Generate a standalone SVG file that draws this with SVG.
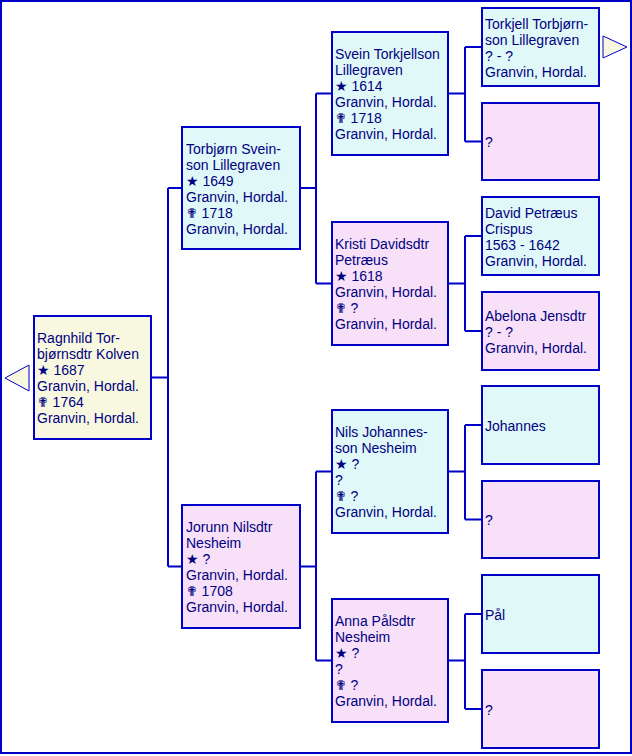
<svg xmlns="http://www.w3.org/2000/svg" width="632" height="756" viewBox="0 0 632 756">
<style>
.frame{fill:#ffffff;stroke:#0000c8;stroke-width:2}
.box{stroke:#0000c8;stroke-width:2}
.m{fill:#e0f8f8}
.f{fill:#f8e0f8}
.r{fill:#f8f8e0}
.ln{fill:none;stroke:#0000c8;stroke-width:2}
.tri{fill:#f8f8e0;stroke:#0000c8;stroke-width:1}
text{font-family:"Liberation Sans","DejaVu Sans",Arial,sans-serif;font-size:14px;fill:#000080}
</style>
<rect class="frame" x="1" y="1" width="630" height="752"/>
<g id="connectors">
<path class="ln" d="M152,377.5H168M168,188V566.5M168,188H181M168,566.5H181"/>
<path class="ln" d="M301,188H316M316,93.5V283.5M316,93.5H331M316,283.5H331"/>
<path class="ln" d="M301,566.5H316M316,471.5V660.5M316,471.5H331M316,660.5H331"/>
<path class="ln" d="M449,93.5H465M465,47V141.5M465,47H481M465,141.5H481"/>
<path class="ln" d="M449,283.5H465M465,236V331M465,236H481M465,331H481"/>
<path class="ln" d="M449,471.5H465M465,425V519.5M465,425H481M465,519.5H481"/>
<path class="ln" d="M449,660.5H465M465,614V709M465,614H481M465,709H481"/>
</g>
<g id="nav-left"><polygon class="tri" points="29,365 5,378 29,391"/></g>
<g id="nav-right"><polygon class="tri" points="603,36 627,47 603,58"/></g>
<g id="n1">
<rect class="box r" x="34" y="316" width="117" height="123"/>
<text x="37"><tspan x="37" y="343">Ragnhild Tor-</tspan><tspan x="37" y="359">bjørnsdtr Kolven</tspan><tspan x="37" y="375">★ 1687</tspan><tspan x="37" y="391">Granvin, Hordal.</tspan><tspan x="37" y="407">✟ 1764</tspan><tspan x="37" y="423">Granvin, Hordal.</tspan></text>
</g>
<g id="n2">
<rect class="box m" x="182" y="127" width="118" height="122"/>
<text><tspan x="186" y="153.5">Torbjørn Svein-</tspan><tspan x="186" y="169.5">son Lillegraven</tspan><tspan x="186" y="185.5">★ 1649</tspan><tspan x="186" y="201.5">Granvin, Hordal.</tspan><tspan x="186" y="217.5">✟ 1718</tspan><tspan x="186" y="233.5">Granvin, Hordal.</tspan></text>
</g>
<g id="n3">
<rect class="box f" x="182" y="505" width="118" height="123"/>
<text><tspan x="186" y="532">Jorunn Nilsdtr</tspan><tspan x="186" y="548">Nesheim</tspan><tspan x="186" y="564">★ ?</tspan><tspan x="186" y="580">Granvin, Hordal.</tspan><tspan x="186" y="596">✟ 1708</tspan><tspan x="186" y="612">Granvin, Hordal.</tspan></text>
</g>
<g id="n4">
<rect class="box m" x="332" y="32" width="116" height="123"/>
<text><tspan x="335" y="59">Svein Torkjellson</tspan><tspan x="335" y="75">Lillegraven</tspan><tspan x="335" y="91">★ 1614</tspan><tspan x="335" y="107">Granvin, Hordal.</tspan><tspan x="335" y="123">✟ 1718</tspan><tspan x="335" y="139">Granvin, Hordal.</tspan></text>
</g>
<g id="n5">
<rect class="box f" x="332" y="222" width="116" height="123"/>
<text><tspan x="335" y="249">Kristi Davidsdtr</tspan><tspan x="335" y="265">Petræus</tspan><tspan x="335" y="281">★ 1618</tspan><tspan x="335" y="297">Granvin, Hordal.</tspan><tspan x="335" y="313">✟ ?</tspan><tspan x="335" y="329">Granvin, Hordal.</tspan></text>
</g>
<g id="n6">
<rect class="box m" x="332" y="410" width="116" height="123"/>
<text><tspan x="335" y="437">Nils Johannes-</tspan><tspan x="335" y="453">son Nesheim</tspan><tspan x="335" y="469">★ ?</tspan><tspan x="335" y="485">?</tspan><tspan x="335" y="501">✟ ?</tspan><tspan x="335" y="517">Granvin, Hordal.</tspan></text>
</g>
<g id="n7">
<rect class="box f" x="332" y="599" width="116" height="123"/>
<text><tspan x="335" y="626">Anna Pålsdtr</tspan><tspan x="335" y="642">Nesheim</tspan><tspan x="335" y="658">★ ?</tspan><tspan x="335" y="674">?</tspan><tspan x="335" y="690">✟ ?</tspan><tspan x="335" y="706">Granvin, Hordal.</tspan></text>
</g>
<g id="n8">
<rect class="box m" x="482" y="8" width="117" height="78"/>
<text><tspan x="485" y="28.5">Torkjell Torbjørn-</tspan><tspan x="485" y="44.5">son Lillegraven</tspan><tspan x="485" y="60.5">? - ?</tspan><tspan x="485" y="76.5">Granvin, Hordal.</tspan></text>
</g>
<g id="n9">
<rect class="box f" x="482" y="103" width="117" height="77"/>
<text x="485" y="147">?</text>
</g>
<g id="n10">
<rect class="box m" x="482" y="197" width="117" height="78"/>
<text><tspan x="485" y="217.5">David Petræus</tspan><tspan x="485" y="233.5">Crispus</tspan><tspan x="485" y="249.5">1563 - 1642</tspan><tspan x="485" y="265.5">Granvin, Hordal.</tspan></text>
</g>
<g id="n11">
<rect class="box f" x="482" y="292" width="117" height="78"/>
<text><tspan x="485" y="320.5">Abelona Jensdtr</tspan><tspan x="485" y="336.5">? - ?</tspan><tspan x="485" y="352.5">Granvin, Hordal.</tspan></text>
</g>
<g id="n12">
<rect class="box m" x="482" y="386" width="117" height="78"/>
<text x="485" y="430.5">Johannes</text>
</g>
<g id="n13">
<rect class="box f" x="482" y="481" width="117" height="77"/>
<text x="485" y="525">?</text>
</g>
<g id="n14">
<rect class="box m" x="482" y="575" width="117" height="78"/>
<text x="485" y="619.5">Pål</text>
</g>
<g id="n15">
<rect class="box f" x="482" y="670" width="117" height="78"/>
<text x="485" y="714.5">?</text>
</g>
</svg>
